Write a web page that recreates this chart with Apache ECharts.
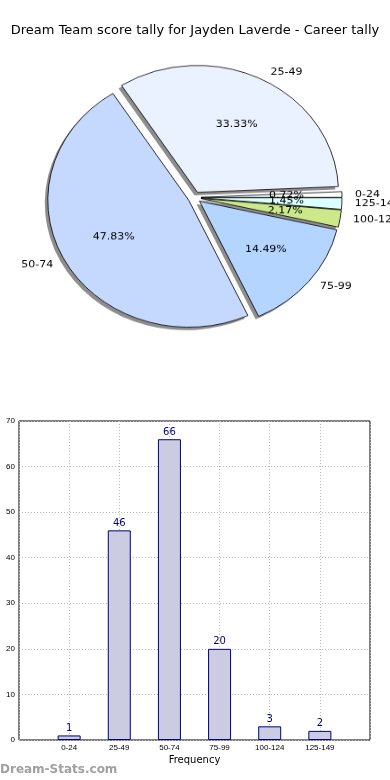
<!DOCTYPE html>
<html><head><meta charset="utf-8">
<script src="https://cdn.jsdelivr.net/npm/echarts@6/dist/echarts.min.js"></script>
<style>html,body{margin:0;padding:0;background:#fff}
#wrap{position:relative;width:390px;height:780px}
#c{position:absolute;left:0;top:0;width:390px;height:780px}
#p{position:absolute;left:0;top:0;width:390px;height:420px;transform:scaleY(0.9);transform-origin:0 0}
</style>
</head><body><div id="wrap"><div id="c"></div><div id="p"></div></div>
<script>
var titleText = 'Dream Team score tally for Jayden Laverde - Career tally';
var categories = ['0-24','25-49','50-74','75-99','100-124','125-149'];
var values = [1, 46, 66, 20, 3, 2];
var pieColors = ['#ffffff','#eaf2ff','#c5d9ff','#b4d5ff','#cbe98a','#dcffff'];
var yTicks = [0,10,20,30,40,50,60,70];

var total = values.reduce(function(a,b){return a+b;},0);
var sy = 0.9;
var center = [194.5, 197.5/sy];
var R = 141;
var off = 6.5;

function pieData(colorFn){
  return categories.map(function(c,i){
    return {name:c, value:values[i], selected:true, itemStyle:{color:colorFn(i)}};
  });
}
var xCats = [''].concat(categories).concat(['']);
var barVals = [null].concat(values).concat([null]);

var chart = echarts.init(document.getElementById('c'));
chart.setOption({
  animation:false,
  title:{text:titleText,left:'center',top:19,textStyle:{fontFamily:'DejaVu Sans',fontSize:13,fontWeight:'normal',color:'#000'}},
  graphic:[{type:'text',left:0,top:764,style:{text:'Dream-Stats.com',fontFamily:'DejaVu Sans',fontSize:12,fontWeight:'bold',fill:'#a0a0a0'}}],
  grid:{left:19,right:20,top:421,bottom:40,show:true,borderColor:'#000',borderWidth:1,backgroundColor:'transparent'},
  xAxis:{type:'category',data:xCats,boundaryGap:false,
    name:'Frequency',nameLocation:'middle',nameGap:15,nameTextStyle:{fontFamily:'DejaVu Sans',fontSize:10,color:'#000'},
    axisLine:{show:false},axisTick:{show:false},
    axisLabel:{fontFamily:'Liberation Sans',fontSize:8,color:'#000',margin:4,interval:0},
    splitLine:{show:true,lineStyle:{type:[1,2],color:'#b8b8b8',width:1}}},
  yAxis:{type:'value',min:0,max:70,interval:10,
    axisLine:{show:false},axisTick:{show:false},
    axisLabel:{fontFamily:'Liberation Sans',fontSize:8,color:'#000',margin:4},
    splitLine:{show:true,lineStyle:{type:[1,2],color:'#b8b8b8',width:1}}},
  series:[
    {type:'bar',data:barVals,barWidth:23,
      itemStyle:{color:'#cbcbe2',borderColor:'#000080',borderWidth:1},
      label:{show:true,position:'top',distance:2,fontFamily:'DejaVu Sans',fontSize:10,color:'#000080'}}
  ]
});

var pie = echarts.init(document.getElementById('p'));
pie.setOption({
  animation:false,
  series:[
    {type:'pie',silent:true,z:1,center:[center[0]-3,center[1]+3.3],radius:R,startAngle:0,clockwise:false,
      selectedMode:'multiple',selectedOffset:off,avoidLabelOverlap:false,
      label:{show:false},labelLine:{show:false},
      itemStyle:{borderWidth:0},
      data:pieData(function(){return '#8e8e8e';})},
    {type:'pie',silent:true,z:2,center:center,radius:R,startAngle:0,clockwise:false,
      selectedMode:'multiple',selectedOffset:off,avoidLabelOverlap:false,
      labelLayout:{hideOverlap:false},
      itemStyle:{borderColor:'#000',borderWidth:0.8},
      label:{show:true,position:'outside',fontFamily:'DejaVu Sans',fontSize:11,color:'#000',formatter:'{b}',distanceToLabelLine:4,padding:[4,0,0,0]},
      labelLine:{show:false,length:9,length2:0},
      data:pieData(function(i){return pieColors[i];})},
    {type:'pie',silent:true,z:3,center:center,radius:[R*0.17,R],startAngle:0,clockwise:false,
      selectedMode:'multiple',selectedOffset:off,avoidLabelOverlap:false,
      labelLayout:{hideOverlap:false},
      itemStyle:{color:'transparent',borderWidth:0},
      label:{show:true,position:'inside',fontFamily:'DejaVu Sans',fontSize:11,color:'#000',padding:[4,0,0,0],
        formatter:function(p){return (p.value/total*100).toFixed(2)+'%';}},
      labelLine:{show:false},
      data:pieData(function(){return 'transparent';})}
  ]
});
</script></body></html>
